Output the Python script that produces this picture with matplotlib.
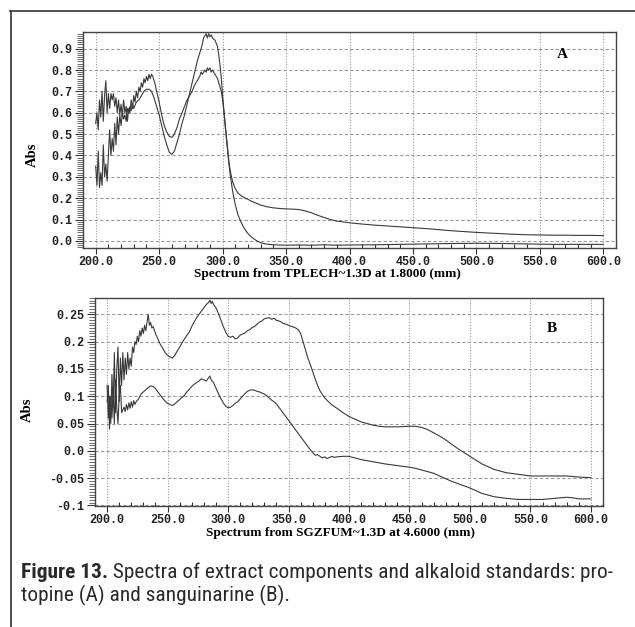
import matplotlib
matplotlib.use("Agg")
import matplotlib.pyplot as plt
from matplotlib import font_manager
from matplotlib.ticker import MultipleLocator
from matplotlib.lines import Line2D

# ---------------- data ----------------
wl_a1 = [200,201,202,203,204,205,206,207,208,209,210,211,212,213,214,215,216,217,218,219,220,221,222,223,224,225,226,227,228,229,230,231,232,233,234,235,236,237,238,239,240,241,242,243,244,245,246,247,248,250,252,254,256,258,260,262,264,266,268,270,272,274,276,278,280,282,283,284,286,287,288,289,290,291,292,294,296,298,299,300,301,302,303,304,305,306,307,308,310,312,315,318,320,323,326,330,335,340,345,350,355,360,365,370,375,380,385,390,395,400,410,420,430,440,450,460,470,480,490,500,510,520,530,540,550,560,570,580,590,600]
abs_a1 = [0.55,0.60,0.52,0.66,0.58,0.70,0.56,0.68,0.75,0.60,0.69,0.62,0.69,0.66,0.69,0.63,0.67,0.60,0.66,0.59,0.64,0.58,0.66,0.60,0.63,0.56,0.62,0.60,0.66,0.62,0.68,0.65,0.70,0.67,0.72,0.70,0.74,0.72,0.76,0.74,0.77,0.75,0.78,0.76,0.78,0.77,0.75,0.73,0.70,0.65,0.59,0.54,0.51,0.49,0.485,0.50,0.53,0.57,0.60,0.63,0.66,0.68,0.70,0.73,0.75,0.77,0.79,0.78,0.80,0.79,0.81,0.80,0.81,0.79,0.80,0.78,0.76,0.72,0.70,0.66,0.61,0.55,0.49,0.43,0.37,0.33,0.30,0.275,0.245,0.225,0.21,0.20,0.195,0.185,0.178,0.168,0.16,0.155,0.152,0.15,0.149,0.147,0.141,0.132,0.12,0.11,0.10,0.093,0.089,0.085,0.079,0.074,0.07,0.066,0.062,0.058,0.053,0.048,0.044,0.04,0.037,0.034,0.031,0.029,0.028,0.027,0.027,0.026,0.026,0.025]

wl_a2 = [200,201,202,203,204,205,206,207,208,209,210,211,212,213,214,215,216,217,218,219,220,221,222,223,224,225,226,227,228,229,230,232,234,236,238,240,242,244,246,248,250,252,254,256,258,260,262,264,266,268,270,272,274,276,278,280,282,284,285,286,287,288,289,290,291,292,294,296,297,298,299,300,301,302,303,304,305,306,307,308,310,312,314,316,318,320,322,325,328,331,335,340,350,360,370,380,390,400,420,440,460,480,500,520,540,560,580,600]
abs_a2 = [0.35,0.26,0.42,0.25,0.32,0.26,0.45,0.30,0.36,0.28,0.40,0.52,0.40,0.48,0.42,0.55,0.45,0.58,0.50,0.59,0.54,0.60,0.57,0.59,0.56,0.62,0.60,0.63,0.61,0.64,0.62,0.65,0.66,0.68,0.70,0.71,0.71,0.70,0.67,0.63,0.59,0.54,0.49,0.45,0.415,0.405,0.42,0.46,0.50,0.55,0.59,0.64,0.69,0.74,0.79,0.84,0.88,0.92,0.95,0.96,0.97,0.95,0.97,0.955,0.965,0.95,0.94,0.91,0.87,0.82,0.76,0.68,0.61,0.54,0.48,0.42,0.36,0.31,0.27,0.23,0.17,0.125,0.095,0.07,0.05,0.035,0.022,0.008,-0.003,-0.01,-0.015,-0.018,-0.02,-0.019,-0.02,-0.018,-0.02,-0.019,-0.018,-0.016,-0.014,-0.012,-0.011,-0.012,-0.014,-0.016,-0.016,-0.016]

wl_b1 = [200,201,202,203,204,205,206,207,208,209,210,211,212,213,214,215,216,217,218,219,220,221,222,223,224,225,226,227,228,229,230,231,232,233,234,235,236,237,238,240,242,244,246,248,250,252,254,256,258,260,262,264,266,268,270,272,274,276,278,280,282,284,285,286,287,288,290,292,294,296,298,300,302,304,306,308,310,312,314,316,318,320,322,324,326,328,330,332,334,336,338,340,342,344,346,348,350,352,354,356,358,360,362,364,366,368,370,372,374,376,378,380,383,386,390,395,400,405,410,415,420,425,430,440,450,455,460,465,470,475,480,485,490,495,500,505,510,515,520,525,530,540,550,560,570,580,590,600]
abs_b1 = [0.12,0.06,0.10,0.05,0.14,0.08,0.18,0.07,0.15,0.19,0.09,0.17,0.12,0.18,0.13,0.17,0.14,0.18,0.15,0.17,0.155,0.19,0.18,0.20,0.195,0.21,0.20,0.22,0.21,0.225,0.215,0.23,0.22,0.235,0.25,0.23,0.235,0.225,0.228,0.215,0.205,0.195,0.188,0.18,0.175,0.172,0.17,0.175,0.183,0.19,0.198,0.205,0.212,0.218,0.228,0.236,0.244,0.25,0.256,0.262,0.268,0.272,0.276,0.27,0.274,0.268,0.262,0.252,0.24,0.228,0.218,0.21,0.208,0.21,0.205,0.207,0.212,0.214,0.216,0.22,0.222,0.226,0.228,0.232,0.236,0.238,0.242,0.243,0.244,0.241,0.243,0.239,0.238,0.236,0.233,0.232,0.23,0.228,0.227,0.225,0.222,0.215,0.20,0.185,0.17,0.158,0.145,0.132,0.12,0.11,0.103,0.097,0.09,0.084,0.078,0.07,0.063,0.058,0.053,0.05,0.047,0.045,0.044,0.044,0.045,0.045,0.043,0.039,0.033,0.027,0.02,0.012,0.004,-0.003,-0.01,-0.017,-0.024,-0.029,-0.034,-0.037,-0.04,-0.043,-0.046,-0.046,-0.046,-0.046,-0.048,-0.049]

wl_b2 = [200,201,202,203,204,205,206,207,208,209,210,211,212,213,214,215,216,217,218,219,220,221,222,223,224,226,228,230,232,234,236,238,240,242,244,246,248,250,252,254,256,258,260,262,264,266,268,270,272,274,276,278,280,282,284,285,286,288,290,292,294,296,298,300,302,304,306,308,310,312,314,316,318,320,322,324,326,328,330,332,334,336,338,340,342,344,346,348,350,352,354,356,358,360,362,364,366,368,370,372,374,376,378,380,382,384,386,388,390,395,400,405,410,415,420,430,440,450,455,460,465,470,475,480,485,490,495,500,505,510,515,520,530,540,550,560,570,575,580,585,590,600]
abs_b2 = [0.09,0.12,0.04,0.10,0.06,0.11,0.05,0.13,0.08,0.05,0.10,0.12,0.07,0.075,0.08,0.072,0.085,0.075,0.088,0.078,0.09,0.08,0.092,0.085,0.09,0.095,0.104,0.108,0.112,0.116,0.119,0.118,0.114,0.108,0.102,0.096,0.091,0.087,0.085,0.083,0.086,0.09,0.094,0.098,0.102,0.108,0.113,0.118,0.122,0.125,0.128,0.132,0.13,0.128,0.134,0.137,0.13,0.125,0.115,0.105,0.096,0.088,0.082,0.079,0.08,0.083,0.087,0.09,0.095,0.10,0.105,0.109,0.111,0.112,0.111,0.109,0.108,0.106,0.104,0.101,0.097,0.093,0.09,0.086,0.08,0.074,0.068,0.062,0.056,0.05,0.044,0.038,0.032,0.026,0.02,0.014,0.008,0.002,-0.003,-0.008,-0.007,-0.01,-0.013,-0.011,-0.014,-0.012,-0.01,-0.012,-0.011,-0.01,-0.01,-0.013,-0.016,-0.018,-0.02,-0.024,-0.027,-0.03,-0.032,-0.035,-0.038,-0.041,-0.046,-0.051,-0.056,-0.06,-0.064,-0.068,-0.073,-0.078,-0.081,-0.084,-0.087,-0.089,-0.089,-0.089,-0.087,-0.086,-0.085,-0.086,-0.088,-0.088]

x_ticks = [200, 250, 300, 350, 400, 450, 500, 550, 600]
x_tick_labels = ["200.0", "250.0", "300.0", "350.0", "400.0", "450.0", "500.0", "550.0", "600.0"]
a_y_ticks = [0.0, 0.1, 0.2, 0.3, 0.4, 0.5, 0.6, 0.7, 0.8, 0.9]
a_y_tick_labels = ["0.0", "0.1", "0.2", "0.3", "0.4", "0.5", "0.6", "0.7", "0.8", "0.9"]
b_y_ticks = [-0.1, -0.05, 0.0, 0.05, 0.1, 0.15, 0.2, 0.25]
b_y_tick_labels = ["-0.1", "-0.05", "0.0", "0.05", "0.1", "0.15", "0.2", "0.25"]

xlabel_a = "Spectrum from TPLECH~1.3D at 1.8000 (mm)"
xlabel_b = "Spectrum from SGZFUM~1.3D at 4.6000 (mm)"
ylabel = "Abs"
caption_bold = "Figure 13."
caption_line1 = " Spectra of extract components and alkaloid standards: pro-"
caption_line2 = "topine (A) and sanguinarine (B)."

# ---------------- styling ----------------
W, H = 635, 627
DPI = 100

def _wnum(w):
    if isinstance(w, (int, float)):
        return w
    return {"normal": 400, "regular": 400, "book": 400, "medium": 500,
            "bold": 700}.get(str(w).lower(), 400)

def _is_condensed(f):
    st = f.stretch
    if isinstance(st, (int, float)):
        return st < 500
    return str(st).lower() in ("condensed", "semi-condensed", "extra-condensed")

# find a condensed sans family with a regular weight for the caption
cap_font, cap_stretch = "Liberation Sans", "normal"
regular_cands = [f for f in font_manager.fontManager.ttflist
                 if ("narrow" in f.name.lower() or _is_condensed(f)
                     or "condensed" in f.name.lower())
                 and 350 <= _wnum(f.weight) <= 450
                 and "italic" not in str(f.style).lower()
                 and "oblique" not in str(f.style).lower()]
pref = ["Liberation Sans Narrow", "Noto Sans", "Open Sans", "Roboto", "DejaVu Sans", "Lato"]
chosen = None
for p in pref:
    for f in regular_cands:
        if f.name.startswith(p):
            chosen = f
            break
    if chosen:
        break
if chosen is None and regular_cands:
    chosen = regular_cands[0]
if chosen is not None:
    cap_font = chosen.name
    cap_stretch = chosen.stretch

tick_font = "Liberation Mono"
serif = "Liberation Serif"
line_col = "#3a3a3a"
grid_col = "#9a9a9a"

fig = plt.figure(figsize=(W / DPI, H / DPI), dpi=DPI)
fig.patch.set_facecolor("white")

def px_rect(l, t, r, b):
    return [l / W, 1 - b / H, (r - l) / W, (b - t) / H]

def style_axes(ax, xlim, ylim, yticks, ylabels, yminor):
    ax.set_xlim(*xlim)
    ax.set_ylim(*ylim)
    ax.set_xticks(x_ticks, x_tick_labels)
    ax.set_yticks(yticks, ylabels)
    ax.xaxis.set_minor_locator(MultipleLocator(10))
    ax.yaxis.set_minor_locator(MultipleLocator(yminor))
    ax.tick_params(axis="x", which="major", direction="out", length=4, width=0.8,
                   color="#333333", pad=1.5)
    ax.tick_params(axis="x", which="minor", direction="in", length=3, width=0.8,
                   color="#333333")
    ax.tick_params(axis="y", which="major", direction="out", length=6, width=0.8,
                   color="#333333", pad=2)
    ax.tick_params(axis="y", which="minor", direction="out", length=4, width=0.6,
                   color="#555555")
    for lab in ax.get_xticklabels() + ax.get_yticklabels():
        lab.set_fontfamily(tick_font)
        lab.set_fontweight("bold")
        lab.set_fontsize(8.5)
        lab.set_color("#222222")
    for s in ax.spines.values():
        s.set_color("#444444")
        s.set_linewidth(1.0)
    for xv in x_ticks:
        ax.axvline(xv, color=grid_col, lw=0.8, ls=(0, (1, 1.5)), zorder=0)
    for yv in yticks:
        ax.axhline(yv, color=grid_col, lw=0.8, ls=(0, (3, 2)), zorder=0)

# Panel A
axA = fig.add_axes(px_rect(83, 32, 616, 248))
style_axes(axA, (190, 610), (-0.033, 0.978), a_y_ticks, a_y_tick_labels, 0.01)
axA.plot(wl_a1, abs_a1, color=line_col, lw=0.8)
axA.plot(wl_a2, abs_a2, color=line_col, lw=0.8)
fig.text(562 / W, 1 - 55 / H, "A", fontfamily=serif, fontweight="bold",
         fontsize=11, ha="center", va="center")

# Panel B
axB = fig.add_axes(px_rect(95, 298, 603, 506))
style_axes(axB, (190, 610), (-0.101, 0.28), b_y_ticks, b_y_tick_labels, 0.005)
axB.plot(wl_b1, abs_b1, color=line_col, lw=0.8)
axB.plot(wl_b2, abs_b2, color=line_col, lw=0.8)
fig.text(552 / W, 1 - 329 / H, "B", fontfamily=serif, fontweight="bold",
         fontsize=11, ha="center", va="center")

# axis labels
fig.text(327 / W, 1 - 277 / H, xlabel_a, fontfamily=serif, fontweight="bold",
         fontsize=9.5, ha="center", va="baseline")
fig.text(340 / W, 1 - 536 / H, xlabel_b, fontfamily=serif, fontweight="bold",
         fontsize=9.5, ha="center", va="baseline")
fig.text(32 / W, 1 - 155 / H, ylabel, fontfamily=serif, fontweight="bold",
         fontsize=10.5, ha="center", va="center", rotation=90)
fig.text(27 / W, 1 - 410 / H, ylabel, fontfamily=serif, fontweight="bold",
         fontsize=10.5, ha="center", va="center", rotation=90)

# frame lines (top and left)
fig.add_artist(Line2D([10 / W, 1.0], [1 - 10.5 / H, 1 - 10.5 / H],
                      transform=fig.transFigure, color="#333333", lw=1.2))
fig.add_artist(Line2D([10.5 / W, 10.5 / W], [0, 1 - 10.5 / H],
                      transform=fig.transFigure, color="#333333", lw=1.2))

# caption
fig.canvas.draw()
renderer = fig.canvas.get_renderer()
cap_size = 13.5
x0 = 21 / W
kw = dict(fontfamily=cap_font, fontstretch=cap_stretch, color="#2a2a2a", va="baseline")
tb = fig.text(x0, 1 - 578 / H, caption_bold, fontweight="bold", fontsize=cap_size, **kw)
bb = tb.get_window_extent(renderer)
t1 = fig.text(bb.x1 / W, 1 - 578 / H, caption_line1, fontweight="normal",
              fontsize=cap_size, **kw)
e1 = t1.get_window_extent(renderer)
total = e1.x1 - bb.x0
cap_size = min(cap_size * (612 - 21) / total, 17)
tb.set_fontsize(cap_size)
fig.canvas.draw()
bb = tb.get_window_extent(renderer)
t1.set_fontsize(cap_size)
t1.set_x(bb.x1 / W)
fig.text(x0, 1 - 601 / H, caption_line2, fontweight="normal", fontsize=cap_size, **kw)

fig.savefig("out.png", dpi=DPI, facecolor="white")
